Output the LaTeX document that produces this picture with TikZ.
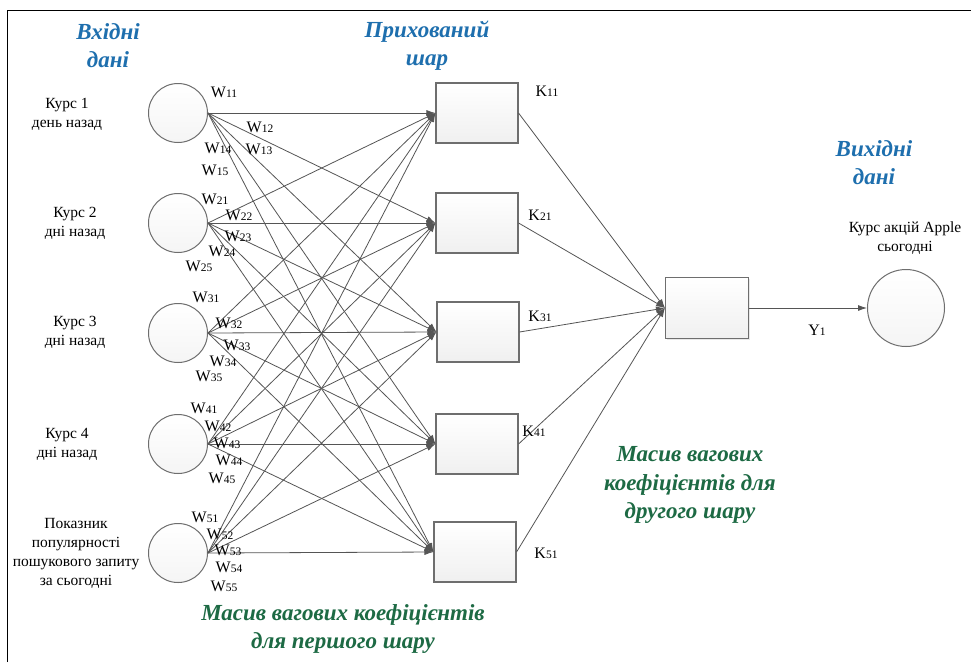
\documentclass[tikz,border=0pt]{standalone}
\usepackage{fontspec}
\setmainfont{Liberation Serif}
\usetikzlibrary{arrows.meta,shadows}

\definecolor{titleblue}{HTML}{1E6FAE}
\definecolor{titlegreen}{HTML}{1D6A44}
\definecolor{edgegray}{HTML}{555555}
\definecolor{shapegray}{HTML}{6E6E6E}

\tikzset{
  neuron/.style={circle, draw=shapegray, line width=1pt, minimum size=59pt, inner sep=0pt,
                 top color=white, bottom color=gray!8},
  unit/.style={rectangle, draw=shapegray, line width=1.1pt, minimum width=82pt, minimum height=60pt,
               inner sep=0pt, top color=white, bottom color=gray!12,
               drop shadow={shadow xshift=1.2pt, shadow yshift=-1.2pt, opacity=0.18}},
  link/.style={draw=edgegray, line width=0.8pt, -{Latex[length=9pt,width=6pt]}},
  caption/.style={align=center, font=\fontsize{15.5}{19}\selectfont, inner sep=0pt},
  heading/.style={align=center, text=titleblue, font=\fontsize{23}{28}\selectfont\bfseries\itshape, inner sep=0pt},
  greenhead/.style={align=center, text=titlegreen, font=\fontsize{23}{28.5}\selectfont\bfseries\itshape, inner sep=0pt},
  wlabel/.style={font=\fontsize{16}{16}\selectfont, inner sep=0pt},
}
\newcommand{\wt}[2]{#1{\fontsize{11.5}{11.5}\selectfont #2}}

\begin{document}
\begin{tikzpicture}[x=1pt, y=-1pt]
  % page and frame
  \fill[white] (0,0) rectangle (971,662);
  \useasboundingbox (0,0) rectangle (971,662);
  \coordinate (fa) at (7,662);
  \coordinate (fb) at (7,10);
  \coordinate (fc) at (971,10);
  \draw[black, line width=1pt] (fa) -- (fb) -- (fc);

  % headings
  \node[heading] (hin) at (108,46) {Вхідні\\дані};
  \node[heading] (hhid) at (427,46) {Прихований\\шар};
  \node[heading] (hout) at (874,163) {Вихідні\\дані};
  \node[greenhead] (g1) at (343,629) {Масив вагових коефіцієнтів\\для першого шару};
  \node[greenhead] (g2) at (690,485) {Масив вагових\\коефіцієнтів для\\другого шару};

  % input neurons
  \node[neuron] (i1) at (178,113) {};
  \node[neuron] (i2) at (178,223) {};
  \node[neuron] (i3) at (178,333) {};
  \node[neuron] (i4) at (178,444) {};
  \node[neuron] (i5) at (178,553) {};

  % input captions
  \node[caption] (c1) at (67,114) {Курс 1\\день назад};
  \node[caption] (c2) at (75,223) {Курс 2\\дні назад};
  \node[caption] (c3) at (75,332) {Курс 3\\дні назад};
  \node[caption] (c4) at (67,444) {Курс 4\\дні назад};
  \node[caption] (c5) at (76,553) {Показник\\популярності\\пошукового запиту\\за сьогодні};

  % hidden layer
  \node[unit] (h1) at (477,113) {};
  \node[unit] (h2) at (477,223) {};
  \node[unit] (h3) at (478,332) {};
  \node[unit] (h4) at (477,444) {};
  \node[unit] (h5) at (475,552) {};

  % output layer
  \node[unit, minimum width=83pt, minimum height=61pt] (o1) at (707,308) {};
  \node[neuron, minimum size=77pt] (y) at (906,308) {};
  \node[caption] (cy) at (905,238) {Курс акцій Apple\\сьогодні};

  % input -> hidden connections
  \foreach \i in {1,...,5}{
    \foreach \j in {1,...,5}{
      \draw[link] (i\i.east) -- (h\j.west);
    }
  }
  % hidden -> output connections
  \foreach \j in {1,...,5}{
    \draw[link] (h\j.east) -- (o1.west);
  }
  \draw[link] (o1.east) -- (y.west);

  % weight labels, first layer
  \node[wlabel] (w11) at (224,92)  {\wt{W}{11}};
  \node[wlabel] (w12) at (260,127) {\wt{W}{12}};
  \node[wlabel] (w13) at (259,149) {\wt{W}{13}};
  \node[wlabel] (w14) at (218,148) {\wt{W}{14}};
  \node[wlabel] (w15) at (215,170) {\wt{W}{15}};
  \node[wlabel] (w21) at (215,199) {\wt{W}{21}};
  \node[wlabel] (w22) at (239,215) {\wt{W}{22}};
  \node[wlabel] (w23) at (238,236) {\wt{W}{23}};
  \node[wlabel] (w24) at (222,251) {\wt{W}{24}};
  \node[wlabel] (w25) at (199,266) {\wt{W}{25}};
  \node[wlabel] (w31) at (206,297) {\wt{W}{31}};
  \node[wlabel] (w32) at (229,323) {\wt{W}{32}};
  \node[wlabel] (w33) at (237,345) {\wt{W}{33}};
  \node[wlabel] (w34) at (223,361) {\wt{W}{34}};
  \node[wlabel] (w35) at (209,376) {\wt{W}{35}};
  \node[wlabel] (w41) at (204,408) {\wt{W}{41}};
  \node[wlabel] (w42) at (218,426) {\wt{W}{42}};
  \node[wlabel] (w43) at (227,443) {\wt{W}{43}};
  \node[wlabel] (w44) at (229,460) {\wt{W}{44}};
  \node[wlabel] (w45) at (222,478) {\wt{W}{45}};
  \node[wlabel] (w51) at (205,517) {\wt{W}{51}};
  \node[wlabel] (w52) at (220,534) {\wt{W}{52}};
  \node[wlabel] (w53) at (228,550) {\wt{W}{53}};
  \node[wlabel] (w54) at (229,567) {\wt{W}{54}};
  \node[wlabel] (w55) at (224,586) {\wt{W}{55}};

  % weight labels, second layer
  \node[wlabel] (k1) at (547,91)  {\wt{K}{11}};
  \node[wlabel] (k2) at (540,215) {\wt{K}{21}};
  \node[wlabel] (k3) at (540,316) {\wt{K}{31}};
  \node[wlabel] (k4) at (534,431) {\wt{K}{41}};
  \node[wlabel] (k5) at (546,553) {\wt{K}{51}};
  \node[wlabel] (y1) at (817,330) {\wt{Y}{1}};
\end{tikzpicture}
\end{document}
